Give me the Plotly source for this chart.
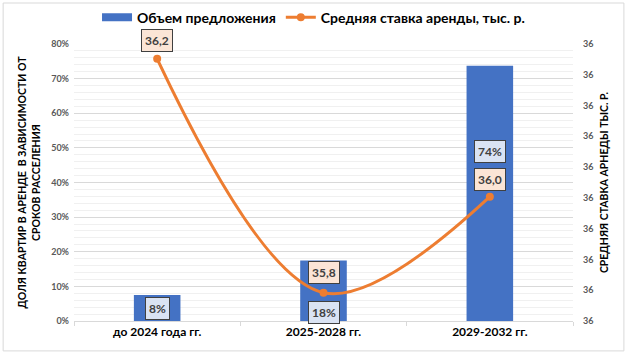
import plotly.graph_objects as go

categories = ["до 2024 года гг.", "2025-2028 гг.", "2029-2032 гг."]
supply_share = [0.075, 0.175, 0.737]
supply_labels = ["8%", "18%", "74%"]
avg_rent = [36.176, 35.796, 35.952]
rent_labels = ["36,2", "35,8", "36,0"]
rent_ticks = [35.75, 35.80, 35.85, 35.90, 35.95, 36.00, 36.05, 36.10, 36.15, 36.20]
pct_ticks = [0, 0.1, 0.2, 0.3, 0.4, 0.5, 0.6, 0.7, 0.8]

FONT = "Lato"
BLUE = "#4472C4"
ORANGE = "#ED7D31"

fig = go.Figure()
# legend entry for bars (wide rectangle symbol, like the reference)
fig.add_trace(go.Scatter(
    x=[categories[0]], y=[None], name="Объем предложения", mode="lines",
    line=dict(color=BLUE, width=8), hoverinfo="skip",
))
fig.add_trace(go.Bar(
    x=categories, y=supply_share, name="Объем предложения", showlegend=False,
    marker=dict(color=BLUE, line=dict(width=0)), width=0.28,
))
fig.add_trace(go.Scatter(
    x=categories, y=avg_rent, name="Средняя ставка аренды, тыс. р.",
    mode="lines+markers", yaxis="y2",
    line=dict(color=ORANGE, width=3, shape="spline", smoothing=1.0),
    marker=dict(color=ORANGE, size=8),
))

bar_shifts = [-13, -52, -86]
for c, v, t, s in zip(categories, supply_share, supply_labels, bar_shifts):
    fig.add_annotation(x=c, y=v, text=f"<b>{t}</b>", showarrow=False, yshift=s,
                       font=dict(family=FONT, size=12, color="#404040"),
                       bgcolor="#DAE3F3", bordercolor="#404040", borderwidth=1, borderpad=3)

rent_shifts = [18, 20, 17]
for c, v, t, s in zip(categories, avg_rent, rent_labels, rent_shifts):
    fig.add_annotation(x=c, y=v, yref="y2", text=f"<b>{t}</b>", showarrow=False, yshift=s,
                       font=dict(family=FONT, size=12, color="#404040"),
                       bgcolor="#FBE5D6", bordercolor="#404040", borderwidth=1, borderpad=3)

# outer chart border
fig.add_shape(type="rect", xref="paper", yref="paper",
              x0=-0.142, x1=1.102, y0=-0.108, y1=1.148,
              line=dict(color="#D9D9D9", width=1), fillcolor="rgba(0,0,0,0)", layer="below")

fig.update_layout(
    width=628, height=355,
    margin=dict(l=74, r=55, t=44, b=34, autoexpand=False),
    paper_bgcolor="white", plot_bgcolor="white",
    font=dict(family=FONT, color="#000000"),
    showlegend=True,
    legend=dict(orientation="h", x=0.48, xanchor="center", y=1.095, yanchor="middle",
                font=dict(family=FONT, size=14, color="#000000", weight="bold"),
                itemwidth=30, tracegroupgap=0, bgcolor="rgba(0,0,0,0)"),
    xaxis=dict(
        type="category", categoryorder="array", categoryarray=categories,
        showgrid=False, showline=True, linecolor="#D9D9D9", linewidth=1,
        ticks="outside", ticklen=4, tickcolor="#D9D9D9", tickson="boundaries",
        automargin=False,
        tickfont=dict(family=FONT, size=12, color="#000000", weight="bold"),
    ),
    yaxis=dict(
        range=[0, 0.8], tickvals=pct_ticks, tickformat=".0%",
        showgrid=True, gridcolor="#D9D9D9", gridwidth=1,
        minor=dict(dtick=0.02, showgrid=True, gridcolor="#F0F0F0", gridwidth=1),
        zeroline=False, showline=False, automargin=False, ticklabelstandoff=4,
        tickfont=dict(family=FONT, size=9, color="#595959", weight="bold"),
        title=dict(text="ДОЛЯ КВАРТИР В АРЕНДЕ  В ЗАВИСИМОСТИ ОТ<br>СРОКОВ РАССЕЛЕНИЯ",
                   font=dict(family=FONT, size=10.5, color="#000000", weight="bold"), standoff=8),
    ),
    yaxis2=dict(
        overlaying="y", side="right", range=[35.75, 36.2],
        tickvals=rent_ticks, ticktext=["36"] * len(rent_ticks),
        showgrid=False, zeroline=False, showline=False, automargin=False,
        ticklabelstandoff=9,
        tickfont=dict(family=FONT, size=9, color="#595959", weight="bold"),
        title=dict(text="СРЕДНЯЯ СТАВКА АРНЕДЫ ТЫС. Р.",
                   font=dict(family=FONT, size=10.5, color="#000000", weight="bold"), standoff=8),
    ),
)

fig.write_html("out.html")
